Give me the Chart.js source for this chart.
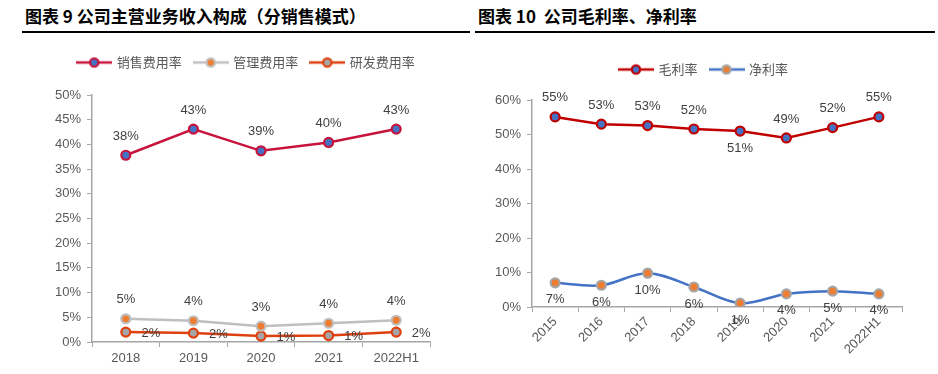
<!DOCTYPE html>
<html>
<head>
<meta charset="utf-8">
<script src="https://cdn.jsdelivr.net/npm/chart.js@4.4.0/dist/chart.umd.min.js"></script>
<style>
body { margin: 0; width: 938px; height: 374px; background: #fff; position: relative; overflow: hidden; font-family: "Noto Sans CJK SC", sans-serif; }
.title { position: absolute; top: 5px; font-size: 17px; font-weight: bold; color: #000; border-bottom: 2px solid #000; padding: 0 0 5px 3px; line-height: 21px; white-space: pre; }
.box { position: absolute; top: 40px; height: 334px; }
</style>
</head>
<body>
<div class="title" style="left:22px;width:445px;">图表 9 公司主营业务收入构成（分销售模式）</div>
<div class="title" style="left:475px;width:457px;">图表 10  公司毛利率、净利率</div>
<div class="box" style="left:0;width:470px;"><canvas id="leftChart"></canvas></div>
<div class="box" style="left:470px;width:468px;"><canvas id="rightChart"></canvas></div>
<script>
// left chart data (销售模式 费用率, %)
const years1 = ['2018', '2019', '2020', '2021', '2022H1'];
const salesRate = [37.8, 43.1, 38.7, 40.4, 43.1];
const mgmtRate = [4.7, 4.3, 3.2, 3.8, 4.4];
const rdRate = [2.0, 1.8, 1.2, 1.3, 2.0];
const yTicks1 = [0, 5, 10, 15, 20, 25, 30, 35, 40, 45, 50];

// right chart data (毛利率 / 净利率, %)
const years2 = ['2015', '2016', '2017', '2018', '2019', '2020', '2021', '2022H1'];
const grossMargin = [55.1, 53.0, 52.6, 51.6, 51.0, 49.0, 52.0, 55.1];
const netMargin = [7.0, 6.3, 9.8, 5.8, 1.1, 3.8, 4.6, 3.8];
const yTicks2 = [0, 10, 20, 30, 40, 50, 60];

const tickColor = '#595959';
const axisColor = '#A6A6A6';

// legend icon: short line with a marker in the middle
function legendIcon(lineColor, fill, border) {
    const c = document.createElement('canvas');
    c.width = 36; c.height = 14;
    const g = c.getContext('2d');
    g.strokeStyle = lineColor;
    g.lineWidth = 2.5;
    g.beginPath(); g.moveTo(0, 7); g.lineTo(36, 7); g.stroke();
    g.beginPath(); g.arc(18, 7, 4.2, 0, Math.PI * 2);
    g.fillStyle = fill; g.fill();
    g.lineWidth = 2.2; g.strokeStyle = border; g.stroke();
    return c;
}

// draws the value labels next to each point
const pointLabels = {
    id: 'pointLabels',
    afterDatasetsDraw(chart) {
        const ctx = chart.ctx;
        ctx.save();
        ctx.font = '13px "Liberation Sans", Arial, sans-serif';
        ctx.fillStyle = '#404040';
        ctx.textAlign = 'center';
        ctx.textBaseline = 'middle';
        chart.data.datasets.forEach(function(ds, i) {
            const meta = chart.getDatasetMeta(i);
            meta.data.forEach(function(pt, j) {
                const pos = (ds.labelOverride && ds.labelOverride[j]) || ds.labelPos;
                let x = pt.x, y = pt.y;
                if (pos === 'top') y -= 19;
                else if (pos === 'bottom') y += 17;
                else if (pos === 'right') { x += 25; y += 1; }
                ctx.fillText(Math.round(ds.data[j]) + '%', x, y);
            });
        });
        ctx.restore();
    }
};

// adds empty space under the legend and nudges it sideways
const legendGap = {
    id: 'legendGap',
    beforeLayout(chart, args, opts) {
        const lg = chart.legend;
        if (!lg || lg._gapPatched) return;
        const fit = lg.fit;
        lg.fit = function() {
            fit.call(this);
            this.height += opts.gap || 0;
        };
        lg._gapPatched = true;
    },
    afterLayout(chart, args, opts) {
        const lg = chart.legend;
        if (!lg) return;
        lg.left += opts.shift || 0;
        lg.right += opts.shift || 0;
    }
};

function makeLegend() {
    return {
        position: 'top',
        labels: {
            usePointStyle: true,
            pointStyleWidth: 32,
            boxHeight: 13,
            padding: 13,
            color: tickColor,
            font: { size: 13, family: '"Noto Sans CJK SC", sans-serif' },
            generateLabels: function(chart) {
                return chart.data.datasets.map(function(ds, i) {
                    return {
                        text: ds.label,
                        pointStyle: ds.legendIcon,
                        fillStyle: ds.borderColor,
                        strokeStyle: ds.borderColor,
                        lineWidth: 0,
                        hidden: false,
                        datasetIndex: i,
                        fontColor: tickColor
                    };
                });
            }
        }
    };
}

function yAxis(ticks, step, width) {
    return {
        min: ticks[0],
        max: ticks[ticks.length - 1],
        afterFit: function(s) { s.width = width; },
        ticks: { stepSize: step, color: tickColor, padding: 6, font: { size: 13, family: '"Liberation Sans", Arial' },
            callback: function(v) { return v + '%'; } },
        grid: { drawOnChartArea: false, color: axisColor, tickLength: 5 },
        border: { color: axisColor, width: 1.5 }
    };
}

function point(ds) {
    return Object.assign({ pointRadius: 4.5, pointHoverRadius: 4.5, pointBorderWidth: 2.2, borderWidth: 2.5, fill: false }, ds);
}

new Chart(document.getElementById('leftChart'), {
    type: 'line',
    data: {
        labels: years1,
        datasets: [
            point({ label: '销售费用率', data: salesRate, borderColor: '#C8143C', pointBackgroundColor: '#4472C4', pointBorderColor: '#C8143C',
                labelPos: 'top', legendIcon: legendIcon('#C8143C', '#4472C4', '#C8143C') }),
            point({ label: '管理费用率', data: mgmtRate, borderColor: '#BFBFBF', pointBackgroundColor: '#ED7D31', pointBorderColor: '#BFBFBF',
                labelPos: 'top', legendIcon: legendIcon('#BFBFBF', '#ED7D31', '#BFBFBF') }),
            point({ label: '研发费用率', data: rdRate, borderColor: '#E0400F', pointBackgroundColor: '#A5A5A5', pointBorderColor: '#E0400F',
                labelPos: 'right', legendIcon: legendIcon('#E0400F', '#A5A5A5', '#E0400F') })
        ]
    },
    options: {
        responsive: true,
        maintainAspectRatio: false,
        animation: false,
        layout: { padding: { left: 23, right: 40, top: 3, bottom: 0 } },
        plugins: { legend: makeLegend(), legendGap: { gap: 16, shift: 20 }, tooltip: { enabled: false } },
        scales: {
            x: {
                offset: true,
                afterFit: function(s) { s.height = 32; },
                ticks: { color: tickColor, padding: 4, font: { size: 13, family: '"Liberation Sans", Arial' } },
                grid: { drawOnChartArea: false, color: axisColor, tickLength: 5, offset: true },
                border: { color: axisColor, width: 1.5 }
            },
            y: yAxis(yTicks1, 5, 69)
        }
    },
    plugins: [pointLabels, legendGap]
});

new Chart(document.getElementById('rightChart'), {
    type: 'line',
    data: {
        labels: years2,
        datasets: [
            point({ label: '毛利率', data: grossMargin, borderColor: '#C00000', pointBackgroundColor: '#4472C4', pointBorderColor: '#C00000',
                labelPos: 'top', labelOverride: { 4: 'bottom' }, legendIcon: legendIcon('#C00000', '#4472C4', '#C00000') }),
            point({ label: '净利率', data: netMargin, borderColor: '#4472C4', pointBackgroundColor: '#ED7D31', pointBorderColor: '#A5A5A5',
                tension: 0.35, labelPos: 'bottom', legendIcon: legendIcon('#4472C4', '#ED7D31', '#A5A5A5') })
        ]
    },
    options: {
        responsive: true,
        maintainAspectRatio: false,
        animation: false,
        layout: { padding: { left: 0, right: 36, top: 10, bottom: 0 } },
        plugins: { legend: makeLegend(), legendGap: { gap: 14, shift: 18 }, tooltip: { enabled: false } },
        scales: {
            x: {
                offset: true,
                afterFit: function(s) { s.height = 67; },
                ticks: { color: tickColor, padding: 2, minRotation: 45, maxRotation: 45, font: { size: 13, family: '"Liberation Sans", Arial' } },
                grid: { drawOnChartArea: false, color: axisColor, tickLength: 5, offset: true },
                border: { color: axisColor, width: 1.5 }
            },
            y: yAxis(yTicks2, 10, 62)
        }
    },
    plugins: [pointLabels, legendGap]
});
</script>
</body>
</html>
